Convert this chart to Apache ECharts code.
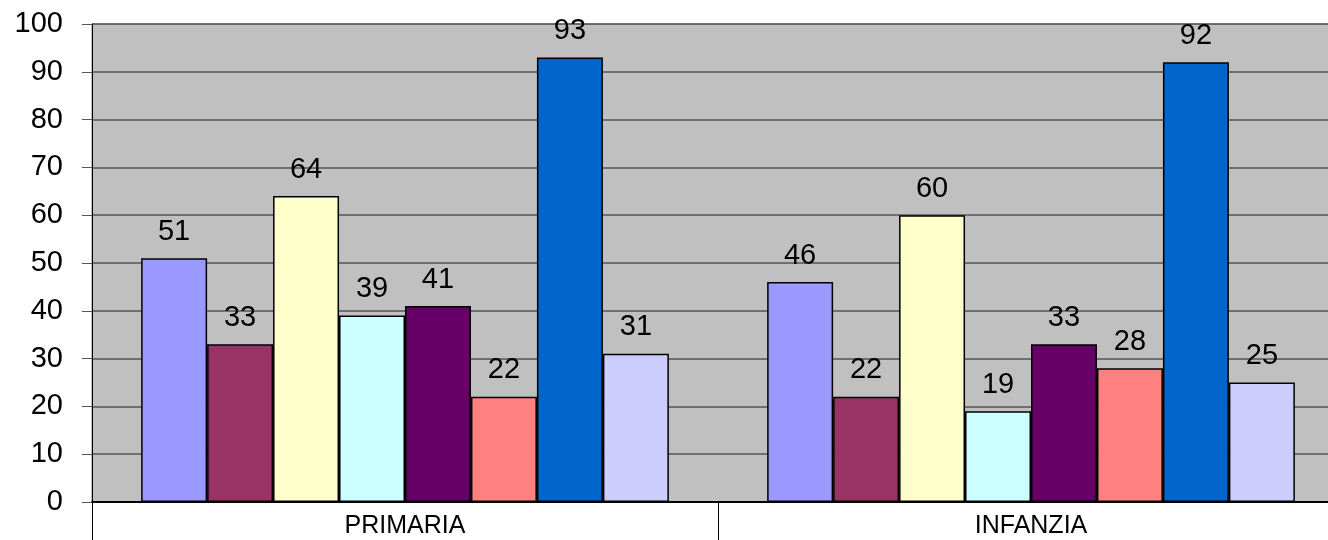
<!DOCTYPE html>
<html>
<head>
<meta charset="utf-8">
<script src="https://cdn.jsdelivr.net/npm/echarts@6/dist/echarts.min.js"></script>
<style>html,body{margin:0;padding:0;background:#fff;overflow:hidden;width:1328px;height:540px;}#c{width:1344px;height:540px;}</style>
</head>
<body>
<div id="c"></div>
<script>
const categories = ['PRIMARIA', 'INFANZIA'];
const s1 = [51, 46];
const s2 = [33, 22];
const s3 = [64, 60];
const s4 = [39, 19];
const s5 = [41, 33];
const s6 = [22, 28];
const s7 = [93, 92];
const s8 = [31, 25];
const seriesData = [s1, s2, s3, s4, s5, s6, s7, s8];
const colors = ['#9999FF', '#993366', '#FFFFCC', '#CCFFFF', '#660066', '#FF8080', '#0066CC', '#CCCCFF'];

const chart = echarts.init(document.getElementById('c'));
chart.setOption({
  animation: false,
  textStyle: { fontFamily: 'Liberation Sans, Arial, sans-serif' },
  grid: { left: 92, right: 0, top: 24, bottom: 38, show: true, backgroundColor: '#C0C0C0', borderColor: '#808080', borderWidth: 1 },
  xAxis: {
    type: 'category',
    data: categories,
    axisLine: { show: true, lineStyle: { color: '#000', width: 2 } },
    axisTick: { show: true, length: 38, lineStyle: { color: '#000', width: 1 } },
    axisLabel: { fontSize: 25, color: '#000', margin: 12 },
    splitLine: { show: false }
  },
  yAxis: {
    type: 'value',
    min: 0, max: 100, interval: 10,
    axisLine: { show: true, lineStyle: { color: '#000', width: 1 } },
    axisTick: { show: true, length: 10, lineStyle: { color: '#555' } },
    axisLabel: { fontSize: 29, color: '#000', margin: 29 },
    splitLine: { show: true, lineStyle: { color: '#555', width: 1.5 } }
  },
  series: seriesData.map((d, i) => ({
    type: 'bar',
    name: 'Serie ' + (i + 1),
    data: d,
    barGap: '0%',
    barCategoryGap: '15.7%',
    itemStyle: { color: colors[i], borderColor: '#000', borderWidth: 1.5 },
    label: { show: true, position: 'top', distance: 12, fontSize: 29, color: '#000' }
  }))
});
</script>
</body>
</html>
